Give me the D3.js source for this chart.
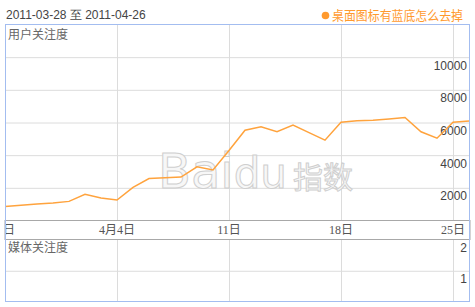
<!DOCTYPE html>
<html>
<head>
<meta charset="utf-8">
<script src="https://cdn.jsdelivr.net/npm/d3@7"></script>
<style>
body { margin: 0; background: #fff; }
svg text { font-family: "Liberation Sans", Arial, sans-serif; }
</style>
</head>
<body>
<div id="g"></div>
<script>
// user attention, 2011-03-28 .. 2011-04-26 (one value per day)
var startDay = "2011-03-28";
var userVals = [830, 900, 980, 1040, 1140, 1570, 1350, 1220, 2000, 2540,
    2580, 2630, 3260, 3060, 4250, 5500, 5710, 5400, 5810, 5350,
    4890, 5980, 6070, 6100, 6180, 6280, 5400, 5010, 5980, 6060];
var xTickDays = ["2011-03-28", "2011-04-04", "2011-04-11", "2011-04-18", "2011-04-25"];
var xTickLabels = ["3月28日", "4月4日", "11日", "18日", "25日"];
var userTicks = [2000, 4000, 6000, 8000, 10000];
var mediaTicks = [1, 2];
var titleRange = "2011-03-28 至 2011-04-26";
var legendText = "桌面图标有蓝底怎么去掉";

var W = 475, H = 307;
var left = 5, right = 470;
var topA = 24, botA = 220, topB = 239, botB = 301.5;
var cjk = "'Noto Sans CJK SC', 'Noto Sans', sans-serif";

var parse = d3.timeParse("%Y-%m-%d");
var d0 = parse(startDay);
var data = userVals.map(function(v, i) {
    return { date: d3.timeDay.offset(d0, i), val: v };
});

var x = d3.scaleTime()
    .domain([d0, d3.timeDay.offset(d0, 29)])
    .range([left, 469]);
var yA = d3.scaleLinear().domain([0, 12000]).range([botA, topA]);
var yB = d3.scaleLinear().domain([0, 2]).range([botB, topB]);

var svg = d3.select("#g").append("svg")
    .attr("width", W).attr("height", H);

// header
svg.append("text").attr("x", 6).attr("y", 19)
    .style("font-size", "12px").attr("fill", "#444")
    .text(titleRange);
svg.append("circle").attr("cx", 325.5).attr("cy", 15.5).attr("r", 3.8).attr("fill", "#ff9a2e");
svg.append("text").attr("x", 332).attr("y", 20)
    .attr("textLength", 131).attr("lengthAdjust", "spacingAndGlyphs")
    .style("font-size", "13px").style("font-family", cjk)
    .attr("fill", "#ff9a2e")
    .text(legendText);

// vertical grid
var tickDates = xTickDays.map(parse);
svg.append("g").selectAll("line").data(tickDates.slice(1)).enter().append("line")
    .attr("x1", function(d) { return Math.round(x(d)) + 0.5; })
    .attr("x2", function(d) { return Math.round(x(d)) + 0.5; })
    .attr("y1", topA).attr("y2", botA).attr("stroke", "#dcdcdc");
svg.append("g").selectAll("line").data(tickDates.slice(1)).enter().append("line")
    .attr("x1", function(d) { return Math.round(x(d)) + 0.5; })
    .attr("x2", function(d) { return Math.round(x(d)) + 0.5; })
    .attr("y1", topB).attr("y2", botB).attr("stroke", "#dcdcdc");

// horizontal grid + labels, top panel
var axA = svg.append("g").attr("transform", "translate(" + right + ",0)")
    .call(d3.axisRight(yA).tickValues(userTicks).tickFormat(d3.format("d"))
        .tickSize(-(right - left)).tickPadding(0));
axA.select(".domain").remove();
axA.selectAll(".tick line").attr("stroke", "#dcdcdc")
    .attr("transform", "translate(0,0.5)");
axA.selectAll(".tick text").attr("x", -3).attr("dy", "12.5").attr("y", 0)
    .attr("text-anchor", "end").attr("fill", "#444")
    .style("font-size", "12px").style("font-family", "'Liberation Sans', Arial, sans-serif");

// bottom panel
var axB = svg.append("g").attr("transform", "translate(" + right + ",0)")
    .call(d3.axisRight(yB).tickValues(mediaTicks).tickFormat(d3.format("d"))
        .tickSize(-(right - left)).tickPadding(0));
axB.select(".domain").remove();
axB.selectAll(".tick line").attr("stroke", function(d) { return d == 2 ? "none" : "#dcdcdc"; })
    .attr("transform", "translate(0,0.5)");
axB.selectAll(".tick text").attr("x", -3).attr("dy", "12.5").attr("y", 0)
    .attr("text-anchor", "end").attr("fill", "#444")
    .style("font-size", "12px").style("font-family", "'Liberation Sans', Arial, sans-serif");

// panel labels
svg.append("text").attr("x", 8).attr("y", 39).attr("fill", "#666")
    .style("font-size", "12px").style("font-family", cjk)
    .text("用户关注度");
svg.append("text").attr("x", 8).attr("y", 252).attr("fill", "#666")
    .style("font-size", "12px").style("font-family", cjk)
    .text("媒体关注度");

// watermark
var wm = svg.append("text").attr("x", 158).attr("y", 188)
    .attr("fill", "#f7f7f7").attr("stroke", "#cfcfcf").attr("stroke-width", 1)
    .style("font-family", "'DejaVu Sans', sans-serif");
wm.append("tspan").style("font-size", "48px").text("Bai");
wm.append("tspan").style("font-size", "42px").text("du");
wm.append("tspan").attr("dx", 6).style("font-size", "30px").style("font-family", cjk).text("指数");

// line
svg.append("defs").append("clipPath").attr("id", "clipA")
    .append("rect").attr("x", left).attr("y", topA).attr("width", right - left).attr("height", botA - topA);
var line = d3.line().x(function(d) { return x(d.date); }).y(function(d) { return yA(d.val); });
svg.append("path").datum(data)
    .attr("clip-path", "url(#clipA)")
    .attr("d", line)
    .attr("fill", "none").attr("stroke", "#ffa33d").attr("stroke-width", 1.5);

// x axis band
svg.append("rect").attr("x", left).attr("y", botA + 0.5).attr("width", right - left).attr("height", topB - botA)
    .attr("fill", "#fff").attr("stroke", "#a8a8a8");
svg.append("defs").append("clipPath").attr("id", "clipX")
    .append("rect").attr("x", left + 1).attr("y", botA).attr("width", right - left - 2).attr("height", topB - botA);
svg.append("g").attr("clip-path", "url(#clipX)")
    .selectAll("text").data(tickDates).enter().append("text")
    .attr("x", function(d, i) { return i == 0 ? x(d) + 10 : x(d); })
    .attr("y", 234)
    .attr("text-anchor", function(d, i) { return i == 0 ? "end" : "middle"; })
    .attr("fill", "#555")
    .style("font-size", "12px").style("font-family", "'Liberation Serif', 'Noto Sans CJK SC', serif")
    .text(function(d, i) { return xTickLabels[i]; });

// outer border
svg.append("rect").attr("x", left + 0.5).attr("y", topA + 0.5)
    .attr("width", right - left - 1).attr("height", botB - topA - 0.5)
    .attr("fill", "none").attr("stroke", "#a3bdf0");
</script>
</body>
</html>
